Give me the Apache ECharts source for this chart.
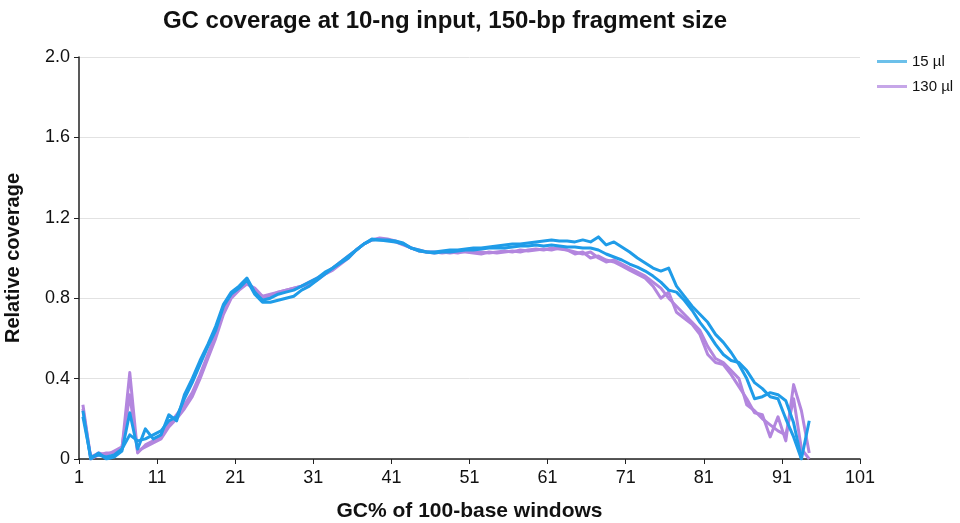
<!DOCTYPE html>
<html>
<head>
<meta charset="utf-8">
<script src="https://cdn.jsdelivr.net/npm/echarts@6/dist/echarts.min.js"></script>
<style>
  html, body { margin: 0; padding: 0; background: #fff; }
  #chart { width: 960px; height: 523px; }
</style>
</head>
<body>
<div id="chart"></div>
<script>
// GC% window (plotted at the bin middle)
var gcBins = [
  1, 2, 3, 4, 5, 6, 7, 8, 9, 10, 11, 12, 13, 14, 15, 16, 17, 18, 19, 20,
  21, 22, 23, 24, 25, 26, 27, 28, 29, 30, 31, 32, 33, 34, 35, 36, 37, 38, 39, 40,
  41, 42, 43, 44, 45, 46, 47, 48, 49, 50, 51, 52, 53, 54, 55, 56, 57, 58, 59, 60,
  61, 62, 63, 64, 65, 66, 67, 68, 69, 70, 71, 72, 73, 74, 75, 76, 77, 78, 79, 80,
  81, 82, 83, 84, 85, 86, 87, 88, 89, 90, 91, 92, 93, 94
];

// 15 µl replicates
var blueA = [
  0.24, 0.00, 0.03, 0.00, 0.01, 0.04, 0.23, 0.05, 0.15, 0.10,
  0.12, 0.22, 0.19, 0.32, 0.40, 0.49, 0.57, 0.66, 0.77, 0.83,
  0.86, 0.90, 0.83, 0.79, 0.80, 0.82, 0.83, 0.84, 0.86, 0.88,
  0.90, 0.93, 0.95, 0.975, 1.00, 1.04, 1.07, 1.095, 1.09, 1.09,
  1.085, 1.075, 1.05, 1.04, 1.03, 1.03, 1.035, 1.04, 1.04, 1.045,
  1.05, 1.05, 1.055, 1.06, 1.065, 1.07, 1.07, 1.075, 1.08, 1.085,
  1.09, 1.085, 1.085, 1.08, 1.09, 1.08, 1.105, 1.065, 1.08, 1.055,
  1.03, 1.00, 0.975, 0.95, 0.935, 0.95, 0.86, 0.81, 0.76, 0.72,
  0.68, 0.62, 0.58, 0.53, 0.47, 0.40, 0.30, 0.31, 0.33, 0.32,
  0.29, 0.18, 0.00, 0.19
];
var blueB = [
  0.21, 0.01, 0.02, 0.01, 0.02, 0.05, 0.12, 0.09, 0.10, 0.12,
  0.14, 0.19, 0.21, 0.30, 0.38, 0.47, 0.56, 0.64, 0.76, 0.82,
  0.85, 0.89, 0.82, 0.78, 0.78, 0.79, 0.80, 0.81, 0.84, 0.86,
  0.89, 0.92, 0.95, 0.98, 1.01, 1.04, 1.07, 1.09, 1.09, 1.085,
  1.08, 1.07, 1.05, 1.035, 1.03, 1.025, 1.03, 1.03, 1.035, 1.04,
  1.04, 1.045, 1.05, 1.05, 1.05, 1.055, 1.06, 1.06, 1.065, 1.06,
  1.065, 1.06, 1.055, 1.055, 1.05, 1.05, 1.04, 1.02, 1.005, 0.99,
  0.97, 0.955, 0.935, 0.91, 0.88, 0.84, 0.83, 0.79, 0.74, 0.68,
  0.63, 0.57, 0.52, 0.49, 0.48, 0.44, 0.38, 0.35, 0.31, 0.30,
  0.20, 0.11, 0.00, null
];

// 130 µl replicates
var purpleA = [
  0.27, 0.00, 0.02, 0.03, 0.03, 0.05, 0.43, 0.03, 0.07, 0.09,
  0.11, 0.17, 0.22, 0.27, 0.33, 0.42, 0.52, 0.62, 0.74, 0.81,
  0.85, 0.88, 0.84, 0.80, 0.81, 0.83, 0.84, 0.85, 0.86, 0.88,
  0.90, 0.92, 0.95, 0.98, 1.01, 1.04, 1.07, 1.09, 1.10, 1.095,
  1.085, 1.07, 1.05, 1.04, 1.03, 1.025, 1.03, 1.025, 1.03, 1.03,
  1.025, 1.02, 1.03, 1.025, 1.03, 1.035, 1.03, 1.04, 1.045, 1.04,
  1.05, 1.045, 1.04, 1.02, 1.03, 1.00, 1.01, 0.99, 0.98, 0.96,
  0.94, 0.92, 0.90, 0.86, 0.80, 0.83, 0.73, 0.70, 0.67, 0.62,
  0.52, 0.48, 0.47, 0.42, 0.36, 0.30, 0.23, 0.22, 0.11, 0.21,
  0.09, 0.37, 0.24, 0.03
];
var purpleB = [
  0.25, 0.01, 0.03, 0.02, 0.04, 0.06, 0.32, 0.04, 0.06, 0.08,
  0.10, 0.16, 0.20, 0.25, 0.31, 0.40, 0.50, 0.60, 0.72, 0.80,
  0.84, 0.87, 0.85, 0.81, 0.82, 0.83, 0.84, 0.85, 0.86, 0.87,
  0.89, 0.92, 0.94, 0.97, 1.00, 1.04, 1.07, 1.09, 1.095, 1.09,
  1.08, 1.065, 1.05, 1.035, 1.03, 1.03, 1.025, 1.03, 1.025, 1.035,
  1.03, 1.03, 1.025, 1.03, 1.035, 1.03, 1.04, 1.035, 1.04, 1.045,
  1.04, 1.05, 1.04, 1.03, 1.02, 1.03, 1.00, 0.98, 0.99, 0.97,
  0.95, 0.93, 0.91, 0.88, 0.85, 0.80, 0.76, 0.72, 0.68, 0.64,
  0.56, 0.50, 0.48, 0.44, 0.40, 0.27, 0.24, 0.20, 0.17, 0.14,
  0.12, 0.30, 0.05, 0.00
];

var BLUE = '#1f9ce8';
var PURPLE = '#b386de';
var FONT = 'Liberation Sans';

// x axis runs 0..100 internally, labelled 1..101
function pairs (vals) {
  return gcBins.map(function (g, i) {
    return [g - 0.5, vals[i]];
  });
}

function lineSeries (name, vals, color) {
  return {
    name: name,
    type: 'line',
    data: pairs(vals),
    showSymbol: false,
    lineStyle: { color: color, width: 3, join: 'round' },
    itemStyle: { color: color },
    emphasis: { disabled: true },
    animation: false
  };
}

var chart = echarts.init(document.getElementById('chart'));

chart.setOption({
  backgroundColor: '#fff',
  title: {
    text: 'GC coverage at 10-ng input, 150-bp fragment size',
    left: 440,
    top: 4,
    textAlign: 'center',
    textStyle: { fontFamily: FONT, fontWeight: 'bold', fontSize: 24, color: '#111' }
  },
  legend: {
    orient: 'vertical',
    left: 872,
    top: 49,
    itemWidth: 30,
    itemHeight: 3,
    itemGap: 10,
    icon: 'rect',
    textStyle: { fontFamily: FONT, fontSize: 15, color: '#111' },
    data: [
      { name: '15 µl', itemStyle: { color: '#6cc0ea' } },
      { name: '130 µl', itemStyle: { color: '#c6a6e8' } }
    ]
  },
  grid: { left: 79, right: 100, top: 57, bottom: 64, containLabel: false, outerBoundsMode: 'none' },
  xAxis: {
    type: 'value',
    min: 0,
    max: 100,
    interval: 10,
    name: 'GC% of 100-base windows',
    nameLocation: 'middle',
    nameGap: 42,
    nameTextStyle: { fontFamily: FONT, fontWeight: 'bold', fontSize: 21, color: '#111' },
    axisLine: { lineStyle: { color: '#222', width: 1.5 } },
    axisTick: { show: true, length: 5, lineStyle: { color: '#222' } },
    axisLabel: {
      fontFamily: FONT,
      fontSize: 18,
      color: '#111',
      margin: 10,
      formatter: function (v) { return String(v + 1); }
    },
    splitLine: { show: false }
  },
  yAxis: {
    type: 'value',
    min: 0,
    max: 2,
    interval: 0.4,
    name: 'Relative coverage',
    nameLocation: 'middle',
    nameGap: 56,
    nameTextStyle: { fontFamily: FONT, fontWeight: 'bold', fontSize: 20, color: '#111' },
    axisLine: { show: true, lineStyle: { color: '#222', width: 1.5 } },
    axisTick: { show: true, length: 5, lineStyle: { color: '#222' } },
    axisLabel: {
      fontFamily: FONT,
      fontSize: 18,
      color: '#111',
      margin: 9,
      formatter: function (v) { return v === 0 ? '0' : v.toFixed(1); }
    },
    splitLine: { show: true, lineStyle: { color: '#e2e2e2', width: 1 } }
  },
  series: [
    lineSeries('130 µl', purpleA, PURPLE),
    lineSeries('130 µl', purpleB, PURPLE),
    lineSeries('15 µl', blueB, BLUE),
    lineSeries('15 µl', blueA, BLUE)
  ]
});
</script>
</body>
</html>
